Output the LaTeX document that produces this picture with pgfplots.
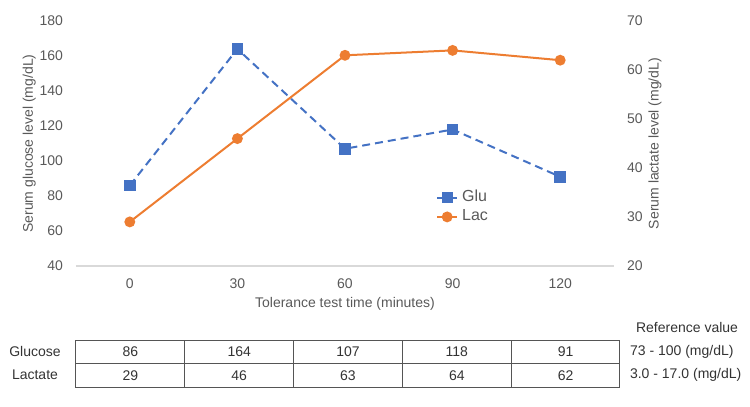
\documentclass[border=0pt]{standalone}
\usepackage{fontspec}
\setmainfont{Liberation Sans}
\usepackage{pgfplots}
\pgfplotsset{compat=1.18}
\definecolor{glu}{HTML}{4472C4}
\definecolor{lac}{HTML}{ED7D31}
\definecolor{txt}{HTML}{595959}
\definecolor{tabc}{HTML}{333333}
\definecolor{tabl}{HTML}{555555}
\definecolor{axl}{HTML}{D9D9D9}
\begin{document}
\begin{tikzpicture}[font=\fontsize{7}{8.4}\selectfont]
\useasboundingbox (-38pt,-70.5pt) rectangle (337pt,133pt);
\pgfplotsset{common/.style={
  scale only axis, width=269pt, height=122.5pt,
  xmin=-0.5, xmax=4.5, major tick length=0pt,
  tick label style={font=\fontsize{7}{8.4}\selectfont, text=txt},
  label style={font=\fontsize{7}{8.4}\selectfont, text=txt},
  /pgf/number format/assume math mode=true,
  clip=false}}
\begin{axis}[common, name=main, at={(0,0)}, anchor=south west,
  ymin=40, ymax=180, ytick={40,60,...,180},
  xtick={0,1,2,3,4}, xticklabels={0,30,60,90,120},
  axis y line*=left, axis x line*=bottom,
  y axis line style={draw=none},
  x axis line style={draw=axl, line width=0.6pt, -},
  yticklabel style={xshift=-3pt},
  xticklabel style={yshift=-3pt},
  ylabel={Serum glucose level (mg/dL)},
  every axis y label/.append style={at={(axis description cs:-0.087,0.5)}, anchor=center},
  xlabel={Tolerance test time (minutes)},
  every axis x label/.append style={at={(axis description cs:0.5,-0.1)}, anchor=north},
]
\addplot[glu, line width=1pt, dash pattern=on 4pt off 2.5pt, mark=square*, mark size=2.4pt, mark options={solid}]
  coordinates {(0,86) (1,164) (2,107) (3,118) (4,91)};
\end{axis}
\begin{axis}[common, at={(0,0)}, anchor=south west,
  ymin=20, ymax=70, ytick={20,30,...,70},
  axis y line*=right, axis x line=none,
  y axis line style={draw=none},
  yticklabel style={xshift=3pt},
  ylabel={Serum lactate level (mg/dL)},
  every axis y label/.append style={at={(axis description cs:1.076,0.5)}, anchor=center, rotate=0},
  legend style={at={(0.665,0.335)}, anchor=north west, draw=none, fill=none,
    font=\fontsize{8}{9.5}\selectfont, text=txt, row sep=-1.5pt, inner sep=1pt},
  legend cell align=left,
  legend image code/.code={\draw[mark repeat=2,mark phase=2] plot coordinates {(0pt,0pt) (5pt,0pt) (10pt,0pt)};},
]
\addlegendimage{glu, line width=1pt, mark=square*, mark size=2.2pt}
\addlegendentry{Glu}
\addplot[lac, line width=1pt, mark=*, mark size=2.2pt]
  coordinates {(0,29) (1,46) (2,63) (3,64) (4,62)};
\addlegendentry{Lac}
\end{axis}
\begin{axis}[scale only axis, width=272pt, height=23.5pt,
  at={(0,-60.5pt)}, anchor=south west,
  xmin=-0.5, xmax=4.5, ymin=0, ymax=2,
  xtick={0.5,1.5,2.5,3.5}, ytick={1},
  xticklabels={}, yticklabels={}, major tick length=0pt,
  grid=major, major grid style={draw=tabl, line width=0.5pt},
  axis line style={draw=tabl, line width=0.5pt},
  clip=false,
  nodes near coords style={font=\fontsize{7}{8.4}\selectfont, text=tabc, anchor=center},
]
\addplot[draw=none, mark=none, nodes near coords, nodes near coords align=center, point meta=explicit symbolic]
  coordinates {(0,1.5)[86] (1,1.5)[164] (2,1.5)[107] (3,1.5)[118] (4,1.5)[91]};
\addplot[draw=none, mark=none, nodes near coords, nodes near coords align=center, point meta=explicit symbolic]
  coordinates {(0,0.5)[29] (1,0.5)[46] (2,0.5)[63] (3,0.5)[64] (4,0.5)[62]};
\node[text=tabc, anchor=center] at ([xshift=-20.5pt]rel axis cs:0,0.75) {Glucose};
\node[text=tabc, anchor=center] at ([xshift=-20.5pt]rel axis cs:0,0.25) {Lactate};
\node[text=tabc, anchor=west] at ([xshift=1.5pt]rel axis cs:1,0.75) {73 - 100 (mg/dL)};
\node[text=tabc, anchor=west] at ([xshift=1.5pt]rel axis cs:1,0.25) {3.0 - 17.0 (mg/dL)};
\node[text=tabc, anchor=west] at ([xshift=4.5pt,yshift=6.5pt]rel axis cs:1,1) {Reference value};
\end{axis}
\end{tikzpicture}
\end{document}
